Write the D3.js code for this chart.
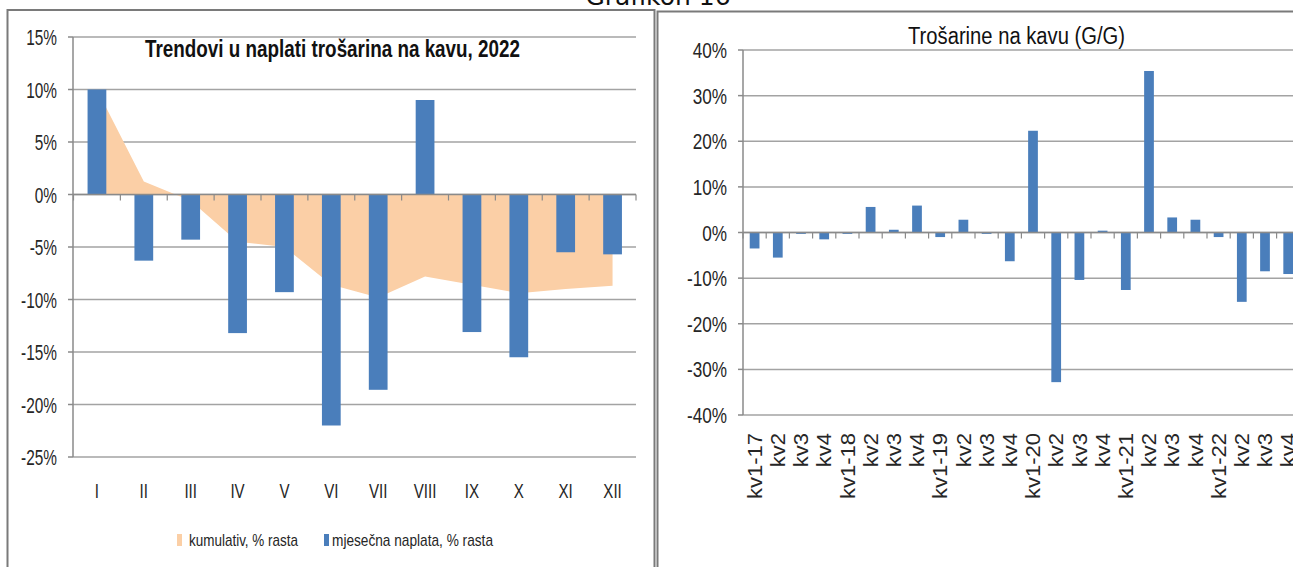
<!DOCTYPE html>
<html>
<head>
<meta charset="utf-8">
<script src="https://cdn.jsdelivr.net/npm/d3@7"></script>
<style>
  body { margin: 0; background: #fff; overflow: hidden; }
  text { font-family: "Liberation Sans", Arial, sans-serif; fill: #262626; }
</style>
</head>
<body>
<div id="chart"></div>
<script>
// lijevi graf - mjesečna naplata i kumulativ, 2022
const months = ['I', 'II', 'III', 'IV', 'V', 'VI', 'VII', 'VIII', 'IX', 'X', 'XI', 'XII']
const monthly = [10, -6.3, -4.3, -13.2, -9.3, -22.0, -18.6, 9.0, -13.1, -15.5, -5.5, -5.7]
const cumulative = [10, 1.25, -0.6, -4.5, -5.0, -8.6, -9.8, -7.8, -8.6, -9.4, -9.0, -8.7]
const leftTicks = [15, 10, 5, 0, -5, -10, -15, -20, -25]

// desni graf - G/G po kvartalima
const quarters = ['kv1-17', 'kv2', 'kv3', 'kv4', 'kv1-18', 'kv2', 'kv3', 'kv4',
  'kv1-19', 'kv2', 'kv3', 'kv4', 'kv1-20', 'kv2', 'kv3', 'kv4',
  'kv1-21', 'kv2', 'kv3', 'kv4', 'kv1-22', 'kv2', 'kv3', 'kv4']
const yoy = [-3.5, -5.5, -0.3, -1.5, -0.3, 5.6, 0.6, 5.9, -1.0, 2.8, -0.3, -6.3,
  22.3, -32.8, -10.4, 0.4, -12.6, 35.4, 3.3, 2.8, -1.0, -15.2, -8.5, -9.1]
const rightTicks = [40, 30, 20, 10, 0, -10, -20, -30, -40]

const width = 1293, height = 567
const blue = '#4a7ebb', peach = '#fbcfa6', grid = '#a3a3a3', axisCol = '#8a8a8a'

const svg = d3.select('#chart').append('svg')
  .attr('width', width).attr('height', height)

// naslov iznad oba grafa (odrezan na vrhu, kao na slici)
svg.append('text')
  .attr('x', 658).attr('y', 5)
  .attr('text-anchor', 'middle')
  .style('font-family', '"DejaVu Sans", sans-serif')
  .style('font-size', '25px')
  .style('fill', '#111')
  .text('Grafikon 16')

// okviri
svg.append('path')
  .attr('d', 'M7.5,567 V10 H654.5 V567')
  .attr('fill', 'none').attr('stroke', '#7a7a7a').attr('stroke-width', 2)
svg.append('path')
  .attr('d', 'M657.5,567 V11.5 H1300')
  .attr('fill', 'none').attr('stroke', '#7a7a7a').attr('stroke-width', 2)

function squeezed(g, x, y, sx, str, size, anchor) {
  return g.append('text')
    .attr('transform', `translate(${x},${y}) scale(${sx},1)`)
    .attr('text-anchor', anchor)
    .style('font-size', size + 'px')
    .text(str)
}

// ---------------- lijevi graf ----------------
function drawLeft() {
  const g = svg.append('g')
  const x = d3.scaleBand().domain(d3.range(months.length)).range([73.5, 636])
    .paddingInner(0.6).paddingOuter(0.3)
  const y = d3.scaleLinear().domain([-25, 15]).range([457, 37])
  const cx = i => x(i) + x.bandwidth() / 2

  // mreža
  g.selectAll('.gl').data(leftTicks).enter().append('line')
    .attr('x1', 73).attr('x2', 636)
    .attr('y1', d => y(d)).attr('y2', d => y(d))
    .attr('stroke', grid).attr('stroke-width', 1.5)

  // kumulativ
  const area = d3.area()
    .x((d, i) => cx(i))
    .y0(y(0))
    .y1(d => y(d))
  g.append('path').datum(cumulative)
    .attr('d', area)
    .attr('fill', peach)

  // stupci
  g.selectAll('.bar').data(monthly).enter().append('rect')
    .attr('x', (d, i) => x(i))
    .attr('width', x.bandwidth())
    .attr('y', d => y(Math.max(0, d)))
    .attr('height', d => Math.abs(y(d) - y(0)))
    .attr('fill', blue)

  // os y
  g.append('line').attr('x1', 73).attr('x2', 73).attr('y1', y(15)).attr('y2', y(-25))
    .attr('stroke', axisCol).attr('stroke-width', 1.5)
  leftTicks.forEach(t => {
    g.append('line').attr('x1', 68).attr('x2', 73).attr('y1', y(t)).attr('y2', y(t))
      .attr('stroke', axisCol).attr('stroke-width', 1.5)
    squeezed(g, 57, y(t) + 8, 0.7, t + '%', 22, 'end')
  })

  // os x (na nuli)
  g.append('line').attr('x1', 73).attr('x2', 636).attr('y1', y(0)).attr('y2', y(0))
    .attr('stroke', axisCol).attr('stroke-width', 1.5)
  d3.range(months.length + 1).forEach(i => {
    const px = 73.5 + i * x.step()
    g.append('line').attr('x1', px).attr('x2', px).attr('y1', y(0)).attr('y2', y(0) + 6)
      .attr('stroke', axisCol).attr('stroke-width', 1.2)
  })
  months.forEach((m, i) => squeezed(g, cx(i), 498, 0.72, m, 21, 'middle'))

  // naslov
  g.append('text')
    .attr('x', 145).attr('y', 57)
    .attr('textLength', 375).attr('lengthAdjust', 'spacingAndGlyphs')
    .style('font-size', '23px').style('font-weight', 'bold').style('fill', '#111')
    .text('Trendovi u naplati trošarina na kavu, 2022')

  // legenda
  g.append('rect').attr('x', 177).attr('y', 534).attr('width', 5).attr('height', 12).attr('fill', peach)
  g.append('text').attr('x', 189).attr('y', 546)
    .attr('textLength', 109).attr('lengthAdjust', 'spacingAndGlyphs')
    .style('font-size', '17px')
    .text('kumulativ, % rasta')
  g.append('rect').attr('x', 324).attr('y', 534).attr('width', 5).attr('height', 12).attr('fill', blue)
  g.append('text').attr('x', 332).attr('y', 546)
    .attr('textLength', 161).attr('lengthAdjust', 'spacingAndGlyphs')
    .style('font-size', '17px')
    .text('mjesečna naplata, % rasta')
}

// ---------------- desni graf ----------------
function drawRight() {
  const g = svg.append('g')
  const step = 23.2
  const x = d3.scaleBand().domain(d3.range(quarters.length))
    .range([743, 743 + step * quarters.length])
    .paddingInner(0.58).paddingOuter(0.29)
  const y = d3.scaleLinear().domain([-40, 40]).range([415, 50])
  const cx = i => x(i) + x.bandwidth() / 2

  g.selectAll('.gl').data(rightTicks).enter().append('line')
    .attr('x1', 743).attr('x2', 1300)
    .attr('y1', d => y(d)).attr('y2', d => y(d))
    .attr('stroke', grid).attr('stroke-width', 1.5)

  g.selectAll('.bar').data(yoy).enter().append('rect')
    .attr('x', (d, i) => x(i))
    .attr('width', x.bandwidth())
    .attr('y', d => y(Math.max(0, d)))
    .attr('height', d => Math.abs(y(d) - y(0)))
    .attr('fill', blue)

  g.append('line').attr('x1', 743).attr('x2', 743).attr('y1', y(40)).attr('y2', y(-40))
    .attr('stroke', axisCol).attr('stroke-width', 1.5)
  rightTicks.forEach(t => {
    g.append('line').attr('x1', 738).attr('x2', 743).attr('y1', y(t)).attr('y2', y(t))
      .attr('stroke', axisCol).attr('stroke-width', 1.5)
    squeezed(g, 727, y(t) + 8, 0.78, t + '%', 22, 'end')
  })

  g.append('line').attr('x1', 743).attr('x2', 1300).attr('y1', y(0)).attr('y2', y(0))
    .attr('stroke', axisCol).attr('stroke-width', 1.5)
  d3.range(quarters.length + 1).forEach(i => {
    const px = 743 + i * x.step()
    g.append('line').attr('x1', px).attr('x2', px).attr('y1', y(0)).attr('y2', y(0) + 6)
      .attr('stroke', axisCol).attr('stroke-width', 1.2)
  })

  // okomite oznake kvartala
  quarters.forEach((q, i) => {
    g.append('text')
      .attr('transform', `translate(${cx(i)},433) scale(0.9,1) rotate(-90)`)
      .attr('text-anchor', 'end')
      .attr('dy', '0.36em')
      .style('font-size', '22px')
      .text(q)
  })

  g.append('text')
    .attr('x', 908).attr('y', 44)
    .attr('textLength', 217).attr('lengthAdjust', 'spacingAndGlyphs')
    .style('font-size', '23px').style('fill', '#111')
    .text('Trošarine na kavu (G/G)')
}

drawLeft()
drawRight()
</script>
</body>
</html>
